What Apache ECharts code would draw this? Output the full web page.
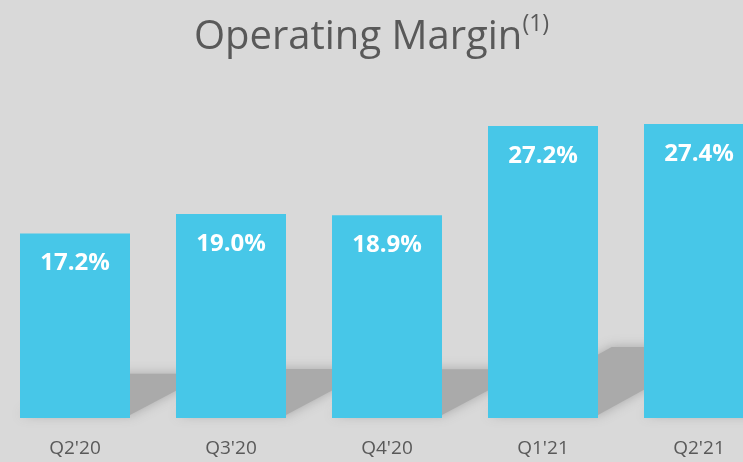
<!DOCTYPE html>
<html>
<head>
<meta charset="utf-8">
<script src="https://cdn.jsdelivr.net/npm/echarts@6/dist/echarts.min.js"></script>
<style>
    html, body { margin: 0; padding: 0; background: #d9d9d9; }
    #chart { width: 743px; height: 462px; }
</style>
</head>
<body>
<div id="chart"></div>
<script>
var quarters = ["Q2'20", "Q3'20", "Q4'20", "Q1'21", "Q2'21"];
var margins = [17.2, 19.0, 18.9, 27.2, 27.4];

var chart = echarts.init(document.getElementById('chart'));

// skewed floor shadow behind each bar
function renderShadow(params, api) {
    var base = api.coord([api.value(0), 0]);
    var top = api.coord([api.value(0), api.value(1) * 0.25]);
    var h = base[1] - top[1];
    var dx = h / 0.59;
    var half = 55;
    return {
        type: 'polygon',
        shape: {
            points: [
                [base[0] - half, base[1] - 3],
                [base[0] + half, base[1] - 3],
                [base[0] + half + dx, base[1] - h + 2],
                [base[0] - half + dx, base[1] - h + 2]
            ]
        },
        style: {
            fill: '#aaaaaa',
            shadowBlur: 12,
            shadowColor: '#a8a8a8'
        }
    };
}

var option = {
    backgroundColor: '#d9d9d9',
    animation: false,
    title: {
        text: '{a|Operating Margin}{b|(1)}',
        left: 'center',
        top: 8,
        textStyle: {
            rich: {
                a: { fontFamily: 'Open Sans', fontWeight: 'normal', fontSize: 40, color: '#595959', lineHeight: 50 },
                b: { fontFamily: 'Open Sans', fontWeight: 'normal', fontSize: 23, color: '#595959', verticalAlign: 'top', lineHeight: 50, padding: [0, 0, 18, 0] }
            }
        }
    },
    grid: {
        left: -3,
        width: 780,
        top: 96,
        bottom: 44,
        outerBoundsMode: 'none',
        containLabel: false
    },
    xAxis: {
        type: 'category',
        data: quarters,
        axisLine: { show: false },
        axisTick: { show: false },
        axisLabel: {
            margin: 21,
            fontFamily: 'Open Sans',
            fontSize: 19,
            color: '#595959'
        }
    },
    yAxis: {
        type: 'value',
        min: 0,
        max: 30,
        show: false,
        splitLine: { show: false }
    },
    series: [
        {
            type: 'custom',
            data: margins.map(function (v, i) { return [i, v]; }),
            renderItem: renderShadow,
            z: 1,
            silent: true
        },
        {
            type: 'bar',
            data: margins,
            barWidth: 110,
            z: 2,
            itemStyle: { color: '#47c7e8' },
            label: {
                show: true,
                position: 'insideTop',
                distance: 18,
                formatter: function (p) { return p.value.toFixed(1) + '%'; },
                fontFamily: 'Open Sans',
                fontWeight: 'bold',
                fontSize: 24,
                color: '#ffffff'
            }
        }
    ]
};

chart.setOption(option);
</script>
</body>
</html>
